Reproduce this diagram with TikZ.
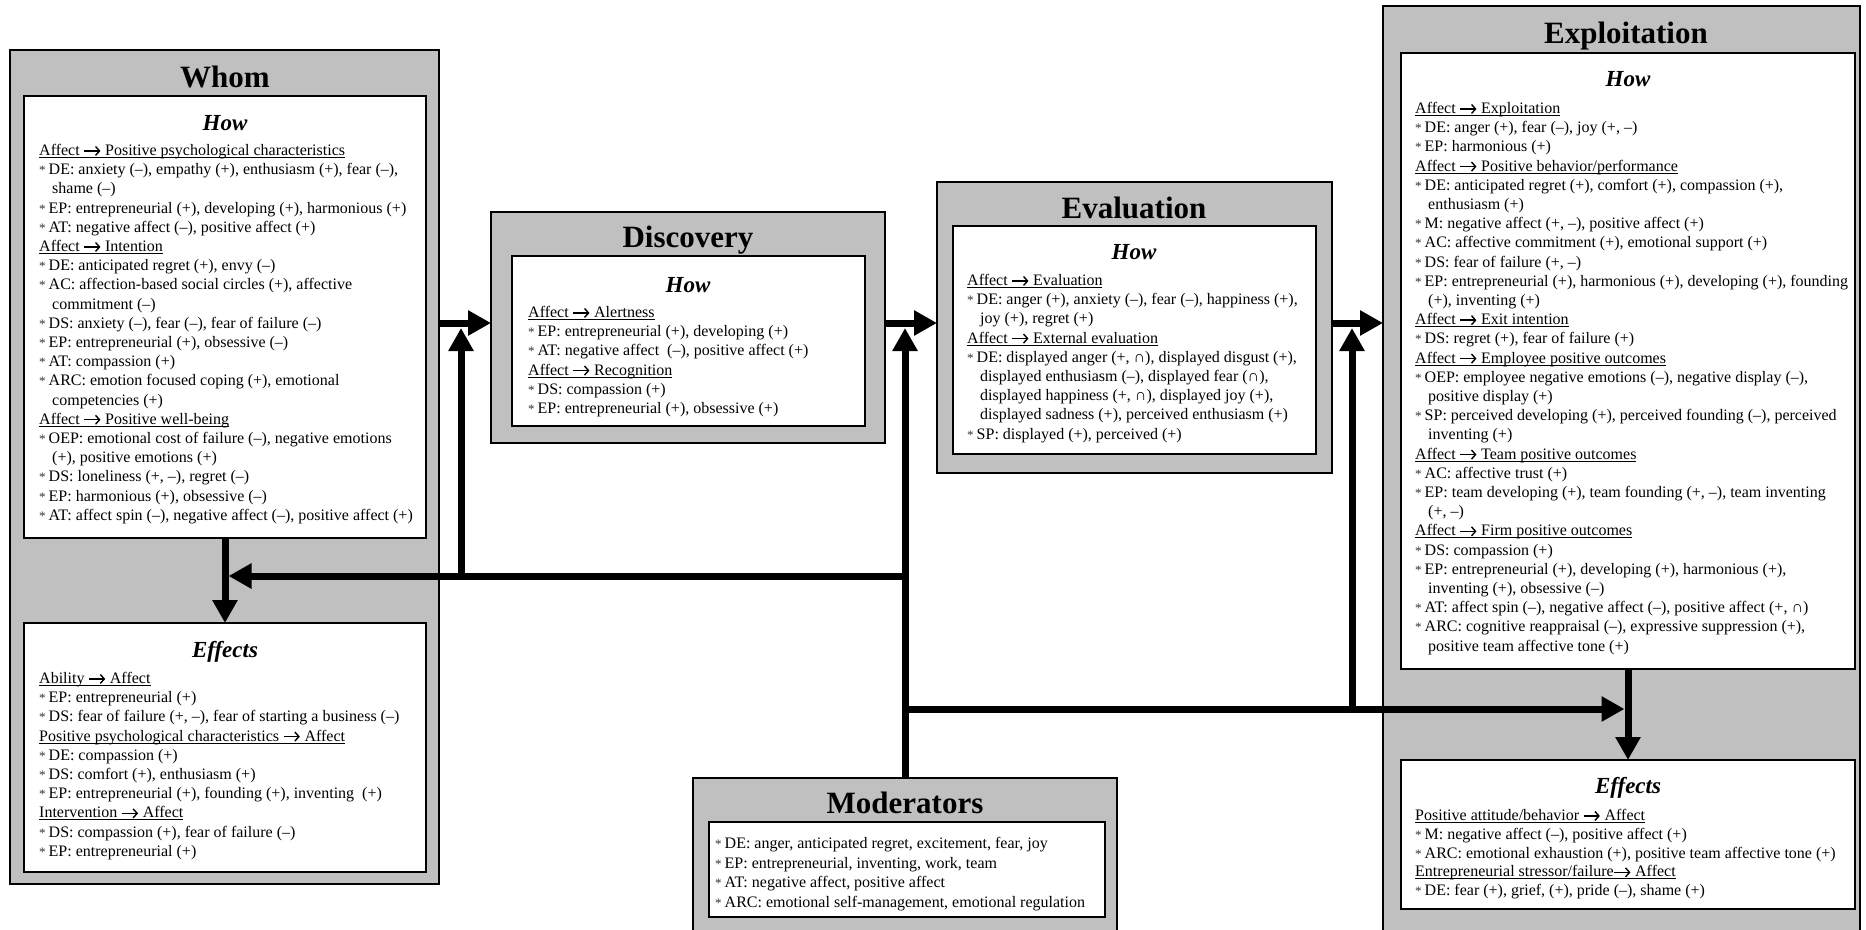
\documentclass[tikz,border=0pt]{standalone}
\usepackage{fontspec}
\setmainfont{Liberation Serif}
\usetikzlibrary{arrows.meta}
\definecolor{boxgray}{RGB}{192,192,192}
\newcommand\myul[1]{\setbox0\hbox{#1}\rlap{\rule[-2.6pt]{\wd0}{1pt}}\box0}
\newcommand\bul{{\color{black!80}\fontsize{13}{13}\selectfont *}\hspace{3pt}}
\newcommand\ind{\hspace*{13pt}}
\newcommand\arr{\tikz[baseline=0pt]{\draw[line width=1.4pt,-{Straight Barb[length=4pt,width=9pt]}] (0pt,4.5pt) -- (16pt,4.5pt);}}
\tikzset{
  outerbox/.style={draw, line width=2pt, fill=boxgray, anchor=north west, inner sep=0, outer sep=0},
  innerbox/.style={draw, line width=2pt, fill=white, anchor=north west, inner sep=0, outer sep=0},
  title/.style={font=\fontsize{31}{31}\selectfont\bfseries, anchor=base, inner sep=0},
  subtitle/.style={font=\fontsize{23}{23}\selectfont\bfseries\itshape, anchor=base, inner sep=0},
  txt/.style={font=\fontsize{16}{19.2}\selectfont, align=left, anchor=north west, inner sep=0},
  arr/.style={line width=7pt, -{Triangle[length=23pt,width=24pt]}},
}
\begin{document}
\begin{tikzpicture}[x=1pt,y=-1pt]
\clip (0,0) rectangle (1866,929);
\fill[white] (0,0) rectangle (1866,929);
% outer boxes
\node[outerbox, minimum width=429pt, minimum height=834pt] (whom) at (10,50) {};
\node[outerbox, minimum width=394pt, minimum height=231pt] (disc) at (491,212) {};
\node[outerbox, minimum width=395pt, minimum height=291pt] (eval) at (937,182) {};
\node[outerbox, minimum width=477pt, minimum height=950pt] (expl) at (1383,6) {};
\node[outerbox, minimum width=424pt, minimum height=180pt] (mod) at (693,778) {};
% inner boxes
\node[innerbox, minimum width=402pt, minimum height=442pt] (whomhow) at (24,96) {};
\node[innerbox, minimum width=402pt, minimum height=249pt] (whomeff) at (24,623) {};
\node[innerbox, minimum width=353pt, minimum height=170pt] (dischow) at (512,256) {};
\node[innerbox, minimum width=363pt, minimum height=228pt] (evalhow) at (953,226) {};
\node[innerbox, minimum width=454pt, minimum height=616pt] (explhow) at (1401,53) {};
\node[innerbox, minimum width=454pt, minimum height=149pt] (expleff) at (1401,760) {};
\node[innerbox, minimum width=396pt, minimum height=95pt] (modin) at (709,822) {};
% titles
\node[title] (whomtitle) at (225,87) {Whom};
\node[title] (disctitle) at (688,247) {Discovery};
\node[title] (evaltitle) at (1134,218) {Evaluation};
\node[title] (expltitle) at (1626,43) {Exploitation};
\node[title] (modtitle) at (905,813) {Moderators};
\node[subtitle] (whomhowt) at (225,130) {How};
\node[subtitle] (whomefft) at (225,657) {Effects};
\node[subtitle] (dischowt) at (688,292) {How};
\node[subtitle] (evalhowt) at (1134,259) {How};
\node[subtitle] (explhowt) at (1628,86) {How};
\node[subtitle] (explefft) at (1628,793) {Effects};
% texts
\node[txt] (whomhowtxt) at (39,144) {%
\myul{Affect \arr{} Positive psychological characteristics}\\
\bul DE: anxiety (–), empathy (+), enthusiasm (+), fear (–),\\
\ind shame (–)\\
\bul EP: entrepreneurial (+), developing (+), harmonious (+)\\
\bul AT: negative affect (–), positive affect (+)\\
\myul{Affect \arr{} Intention}\\
\bul DE: anticipated regret (+), envy (–)\\
\bul AC: affection-based social circles (+), affective\\
\ind commitment (–)\\
\bul DS: anxiety (–), fear (–), fear of failure (–)\\
\bul EP: entrepreneurial (+), obsessive (–)\\
\bul AT: compassion (+)\\
\bul ARC: emotion focused coping (+), emotional\\
\ind competencies (+)\\
\myul{Affect \arr{} Positive well-being}\\
\bul OEP: emotional cost of failure (–), negative emotions\\
\ind (+), positive emotions (+)\\
\bul DS: loneliness (+, –), regret (–)\\
\bul EP: harmonious (+), obsessive (–)\\
\bul AT: affect spin (–), negative affect (–), positive affect (+)};
\node[txt] (whomefftxt) at (39,672) {%
\myul{Ability \arr{} Affect}\\
\bul EP: entrepreneurial (+)\\
\bul DS: fear of failure (+, –), fear of starting a business (–)\\
\myul{Positive psychological characteristics \arr{} Affect}\\
\bul DE: compassion (+)\\
\bul DS: comfort (+), enthusiasm (+)\\
\bul EP: entrepreneurial (+), founding (+), inventing \ (+)\\
\myul{Intervention \arr{} Affect}\\
\bul DS: compassion (+), fear of failure (–)\\
\bul EP: entrepreneurial (+)};
\node[txt] (disctxt) at (528,306) {%
\myul{Affect \arr{} Alertness}\\
\bul EP: entrepreneurial (+), developing (+)\\
\bul AT: negative affect \ (–), positive affect (+)\\
\myul{Affect \arr{} Recognition}\\
\bul DS: compassion (+)\\
\bul EP: entrepreneurial (+), obsessive (+)};
\node[txt] (evaltxt) at (967,274) {%
\myul{Affect \arr{} Evaluation}\\
\bul DE: anger (+), anxiety (–), fear (–), happiness (+),\\
\ind joy (+), regret (+)\\
\myul{Affect \arr{} External evaluation}\\
\bul DE: displayed anger (+, ∩), displayed disgust (+),\\
\ind displayed enthusiasm (–), displayed fear (∩),\\
\ind displayed happiness (+, ∩), displayed joy (+),\\
\ind displayed sadness (+), perceived enthusiasm (+)\\
\bul SP: displayed (+), perceived (+)};
\node[txt] (expltxt) at (1415,102) {%
\myul{Affect \arr{} Exploitation}\\
\bul DE: anger (+), fear (–), joy (+, –)\\
\bul EP: harmonious (+)\\
\myul{Affect \arr{} Positive behavior/performance}\\
\bul DE: anticipated regret (+), comfort (+), compassion (+),\\
\ind enthusiasm (+)\\
\bul M: negative affect (+, –), positive affect (+)\\
\bul AC: affective commitment (+), emotional support (+)\\
\bul DS: fear of failure (+, –)\\
\bul EP: entrepreneurial (+), harmonious (+), developing (+), founding\\
\ind (+), inventing (+)\\
\myul{Affect \arr{} Exit intention}\\
\bul DS: regret (+), fear of failure (+)\\
\myul{Affect \arr{} Employee positive outcomes}\\
\bul OEP: employee negative emotions (–), negative display (–),\\
\ind positive display (+)\\
\bul SP: perceived developing (+), perceived founding (–), perceived\\
\ind inventing (+)\\
\myul{Affect \arr{} Team positive outcomes}\\
\bul AC: affective trust (+)\\
\bul EP: team developing (+), team founding (+, –), team inventing\\
\ind (+, –)\\
\myul{Affect \arr{} Firm positive outcomes}\\
\bul DS: compassion (+)\\
\bul EP: entrepreneurial (+), developing (+), harmonious (+),\\
\ind inventing (+), obsessive (–)\\
\bul AT: affect spin (–), negative affect (–), positive affect (+, ∩)\\
\bul ARC: cognitive reappraisal (–), expressive suppression (+),\\
\ind positive team affective tone (+)};
\node[txt, font=\fontsize{16}{18.8}\selectfont] (explefftxt) at (1415,809) {%
\myul{Positive attitude/behavior \arr{} Affect}\\
\bul M: negative affect (–), positive affect (+)\\
\bul ARC: emotional exhaustion (+), positive team affective tone (+)\\
\myul{Entrepreneurial stressor/failure\arr{} Affect}\\
\bul DE: fear (+), grief, (+), pride (–), shame (+)};
\node[txt, font=\fontsize{16}{19.7}\selectfont] (modtxt) at (715,837) {%
\bul DE: anger, anticipated regret, excitement, fear, joy\\
\bul EP: entrepreneurial, inventing, work, team\\
\bul AT: negative affect, positive affect\\
\bul ARC: emotional self-management, emotional regulation};
% connectors
\coordinate (yA) at (0,323);
\coordinate (yT) at (0,328);
\coordinate (yL) at (0,576);
\coordinate (yR) at (0,709);
\coordinate (xD) at (461,0);
\coordinate (xE) at (1352,0);
\coordinate (wL) at ([xshift=3.5pt]whomhow.south);
\coordinate (eR) at ([xshift=-3.5pt]explhow.south);
\draw[arr] (whomhow.south) -- (whomeff.north);
\draw[arr] (explhow.south) -- (expleff.north);
\draw[arr] (whom.east |- yA) -- (disc.west |- yA);
\draw[arr] (disc.east |- yA) -- (eval.west |- yA);
\draw[arr] (eval.east |- yA) -- (expl.west |- yA);
\draw[arr] (mod.north) -- (mod.north |- yT);
\draw[arr] (mod.north |- yL) -- (wL |- yL);
\draw[arr] (xD |- yL) -- (xD |- yT);
\draw[arr] (mod.north |- yR) -- (eR |- yR);
\draw[arr] (xE |- yR) -- (xE |- yT);
\end{tikzpicture}
\end{document}
